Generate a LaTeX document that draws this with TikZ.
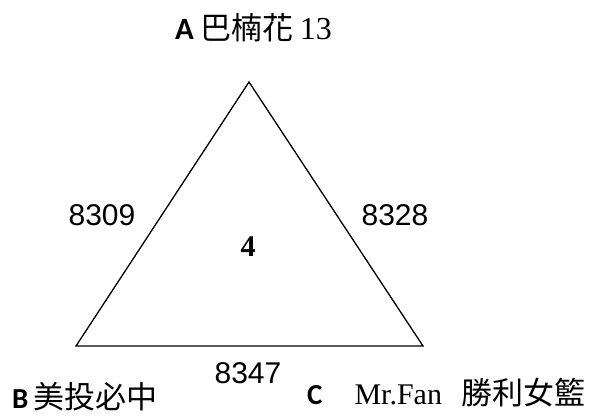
\documentclass[tikz,border=0pt]{standalone}
\usepackage{fontspec}
\setmainfont{Liberation Serif}
\newfontfamily\arialfont{Liberation Sans}
\newfontfamily\calfont{Carlito}
\newfontfamily\cjk{Noto Sans CJK TC}

\newcommand\teamletter[2][29]{{\calfont\bfseries\fontsize{#1}{34}\selectfont #2}}
\newcommand\teamname[1]{{\cjk\fontsize{31}{36}\selectfont #1}}

\tikzset{
  edgenum/.style={font=\arialfont\fontsize{30}{36}\selectfont, inner sep=0pt},
  cornerlbl/.style={anchor=base west, inner sep=0pt, font=\fontsize{30}{36}\selectfont},
}

\begin{document}
\begin{tikzpicture}[x=1pt,y=-1pt]
\useasboundingbox (0,0) rectangle (595,419);
% corners of the triangle
\coordinate (A) at (249,82);
\coordinate (B) at (76,346);
\coordinate (C) at (423,346);
\draw[line width=1.3pt, line join=miter] (A) -- (B) -- (C) -- cycle;
% numbers on the sides
\node[edgenum] (ab) at (102,215) {8309};
\node[edgenum] (ac) at (395,215) {8328};
\node[edgenum] (bc) at (248,373) {8347};
\node[inner sep=0pt, font=\bfseries\fontsize{30}{36}\selectfont] (mid) at (248,247) {4};
% team labels
\node[cornerlbl] (la) at (175,40) {\teamletter[31]{A}\hspace{7pt}\teamname{巴楠花}\hspace{6pt}{\fontsize{32}{38}\selectfont 13}};
\node[cornerlbl] (lb) at (12,409) {\teamletter{B}\hspace{5pt}\teamname{美投必中}};
\node[cornerlbl] (lc) at (307,405) {\teamletter{C}\hspace{32pt}Mr.Fan\hspace{19pt}\teamname{勝利女籃}};
\end{tikzpicture}
\end{document}
